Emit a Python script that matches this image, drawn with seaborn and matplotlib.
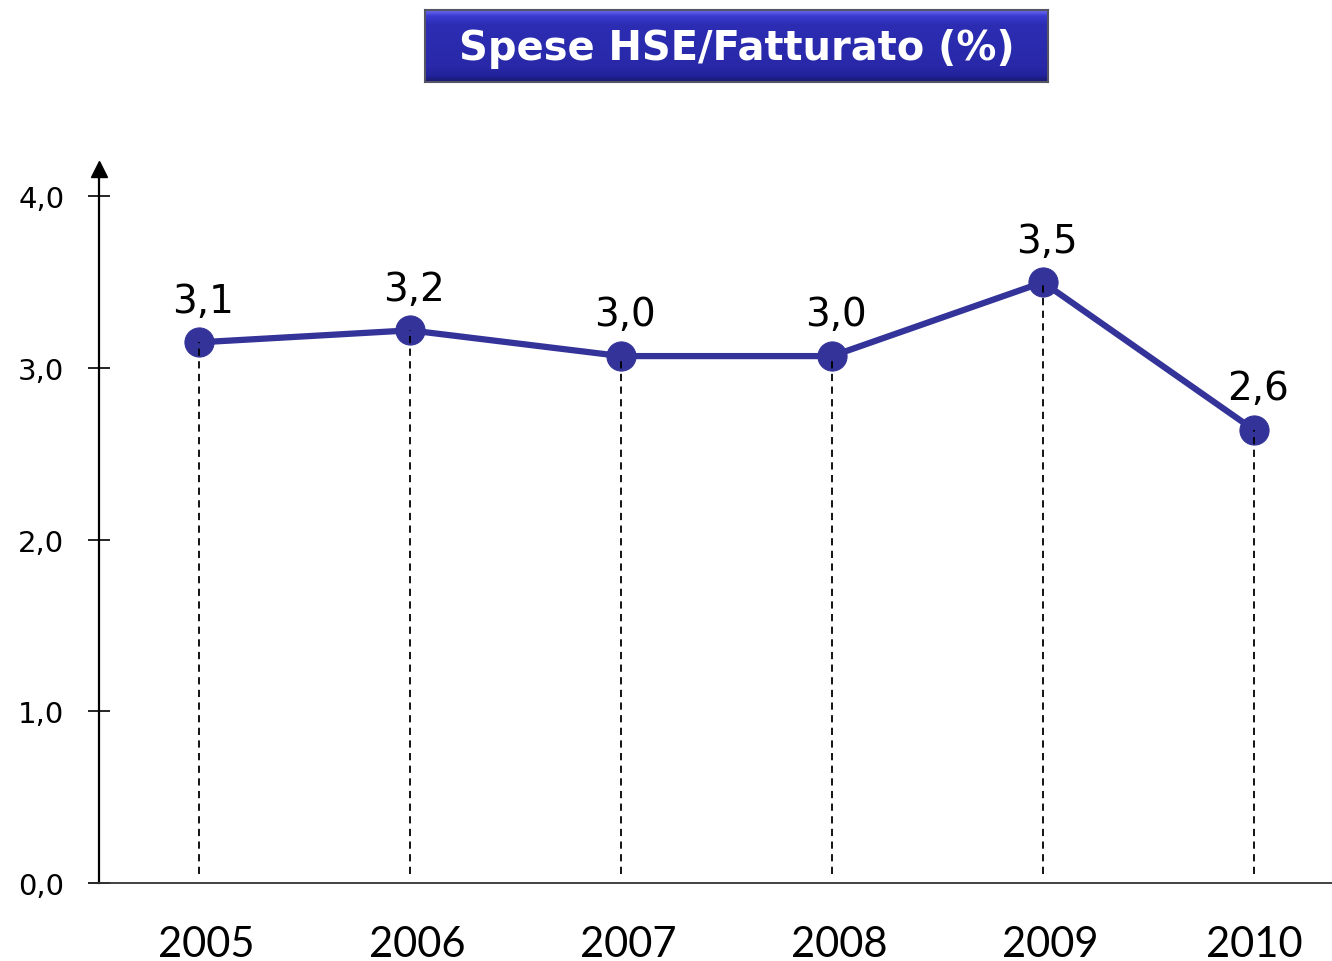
import numpy as np
import matplotlib
matplotlib.use("Agg")
import matplotlib.pyplot as plt
import matplotlib.transforms as mtransforms
from matplotlib.colors import LinearSegmentedColormap
import seaborn as sns

# Data
years = [2005, 2006, 2007, 2008, 2009, 2010]
values = [3.15, 3.22, 3.07, 3.07, 3.50, 2.64]
value_labels = ["3,1", "3,2", "3,0", "3,0", "3,5", "2,6"]
y_ticks = [0.0, 1.0, 2.0, 3.0, 4.0]
y_tick_labels = ["0,0", "1,0", "2,0", "3,0", "4,0"]
title = "Spese HSE/Fatturato (%)"

sns.set_theme(style="white")
plt.rcParams['font.family'] = ['DejaVu Sans']
plt.rcParams['text.color'] = 'black'
plt.rcParams['xtick.color'] = 'black'
plt.rcParams['ytick.color'] = 'black'

LINE_COLOR = '#333399'

fig = plt.figure(figsize=(13.32, 9.62), dpi=100)
W, H = 1332, 962
ax = fig.add_axes([99 / W, (H - 884) / H, 1 - 99 / W, (884 - 170) / H])

# dashed drop lines from each point
ax.vlines(years, 0.05, values, colors='black', linestyles=(0, (4, 3)),
          linewidth=1.3, zorder=4)

sns.lineplot(x=years, y=values, ax=ax, color=LINE_COLOR, linewidth=4.5,
             marker='o', markersize=21, markeredgecolor=LINE_COLOR,
             markerfacecolor=LINE_COLOR, zorder=3)

for x, y, lab in zip(years, values, value_labels):
    ax.annotate(lab, (x, y), xytext=(3, 30), textcoords='offset points',
                ha='center', va='center', fontsize=28, color='black')

ax.set_xlim(years[0] - 0.474, years[-1] + 0.37)
ax.set_ylim(0, 4.16)

ax.set_xticks(years)
ax.set_xticklabels([str(y) for y in years], family=['Lato', 'DejaVu Sans'],
                   fontsize=30, color='black')
ax.set_yticks(y_ticks)
ax.set_yticklabels(y_tick_labels, fontsize=21, color='black')
ax.tick_params(axis='x', length=0, pad=30)
ax.tick_params(axis='y', direction='inout', length=16, width=1.2,
               color='black', pad=17, left=True)

# year labels sit a bit to the right of the points
shift = mtransforms.ScaledTranslation(0.07, 0, fig.dpi_scale_trans)
for lbl in ax.get_xticklabels()[:-1]:
    lbl.set_transform(lbl.get_transform() + shift)

for side in ['top', 'right']:
    ax.spines[side].set_visible(False)
ax.spines['left'].set_linewidth(1.6)
ax.spines['left'].set_color('black')
ax.spines['bottom'].set_linewidth(1.3)
ax.spines['bottom'].set_color('#333333')
ax.set_xlabel("")
ax.set_ylabel("")
ax.grid(False)

# arrow head on top of y axis
ax.plot(0, 1, marker='^', color='black', markersize=11, transform=ax.transAxes,
        clip_on=False)

# title box with a vertical gradient
tax = fig.add_axes([425 / W, (H - 83) / H, (1048 - 425) / W, (83 - 11) / H])
grad = LinearSegmentedColormap.from_list(
    'box', [(0.0, '#6a6af2'), (0.08, '#3a3ad0'), (0.2, '#2d2db4'),
            (0.8, '#2828a8'), (0.92, '#22229a'), (1.0, '#18186a')])
tax.imshow(np.linspace(0, 1, 100).reshape(-1, 1), aspect='auto', cmap=grad,
           extent=[0, 1, 0, 1])
tax.set_xlim(0, 1)
tax.set_ylim(0, 1)
tax.set_xticks([])
tax.set_yticks([])
for s in tax.spines.values():
    s.set_color('#555566')
    s.set_linewidth(1.5)
tax.text(0.5, 0.47, title, ha='center', va='center', color='white',
         fontsize=28.8, fontweight='bold', transform=tax.transAxes)

fig.savefig("out.png", dpi=100, facecolor='white')
